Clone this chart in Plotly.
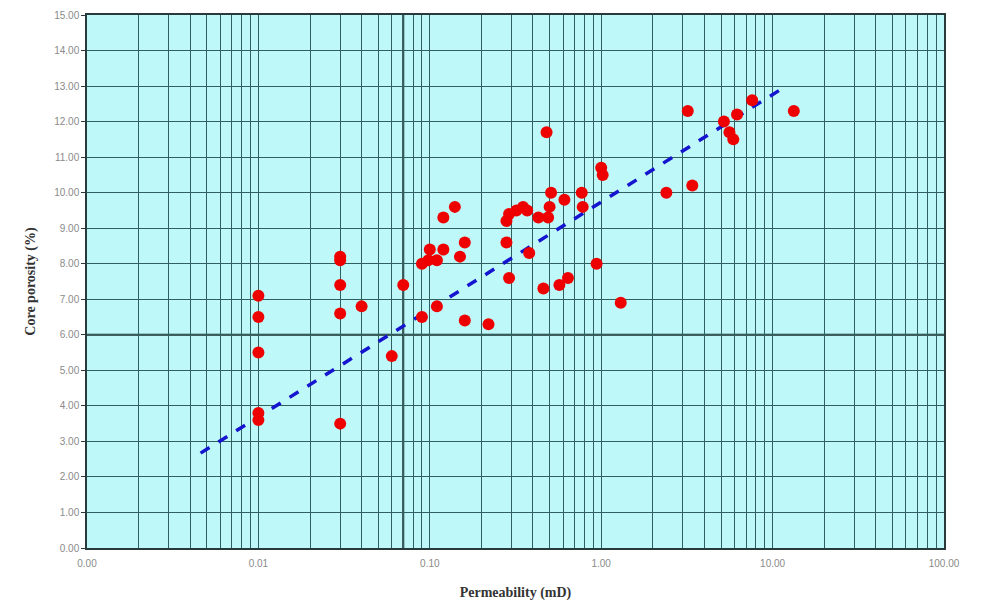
import plotly.graph_objects as go

# ---- data ----
permeability = [0.01, 0.01, 0.01, 0.01, 0.01,
                0.03, 0.03, 0.03, 0.03, 0.03,
                0.04, 0.07, 0.06, 0.09, 0.09, 0.098, 0.10, 0.11, 0.11,
                0.12, 0.12, 0.14, 0.15, 0.16, 0.16, 0.22,
                0.28, 0.28, 0.29, 0.29, 0.32, 0.35, 0.37, 0.38,
                0.43, 0.46, 0.48, 0.49, 0.50, 0.51, 0.57, 0.61, 0.64,
                0.77, 0.78, 0.94, 1.0, 1.02, 1.3,
                2.4, 3.2, 3.4, 5.2, 5.6, 5.9, 6.2, 7.6, 13.3]
porosity = [7.1, 6.5, 5.5, 3.8, 3.6,
            8.2, 8.1, 7.4, 6.6, 3.5,
            6.8, 7.4, 5.4, 6.5, 8.0, 8.1, 8.4, 8.1, 6.8,
            8.4, 9.3, 9.6, 8.2, 8.6, 6.4, 6.3,
            9.2, 8.6, 7.6, 9.4, 9.5, 9.6, 9.5, 8.3,
            9.3, 7.3, 11.7, 9.3, 9.6, 10.0, 7.4, 9.8, 7.6,
            10.0, 9.6, 8.0, 10.7, 10.5, 6.9,
            10.0, 12.3, 10.2, 12.0, 11.7, 11.5, 12.2, 12.6, 12.3]

trend_x = [0.0046, 12.0]
trend_y = [2.67, 13.0]

cutoff_perm = 0.07
cutoff_por = 6.0

x_decades = [0.001, 0.01, 0.1, 1, 10, 100]
x_labels = ["0.00", "0.01", "0.10", "1.00", "10.00", "100.00"]
y_ticks = list(range(0, 16))
y_labels = ["%.2f" % v for v in y_ticks]

# gridline positions (1..9 per decade)
x_grid = []
x_grid_text = []
for d, lab in zip(x_decades, x_labels):
    if d == x_decades[-1]:
        x_grid.append(d)
        x_grid_text.append(lab)
        break
    for m in range(1, 10):
        x_grid.append(d * m)
        x_grid_text.append(lab if m == 1 else "")

grid_col = "#2f5f5f"

fig = go.Figure()
fig.add_trace(go.Scatter(
    x=trend_x, y=trend_y, mode="lines",
    line=dict(color="#1515d0", width=3.5, dash="dash"),
    showlegend=False, hoverinfo="skip"))
fig.add_trace(go.Scatter(
    x=permeability, y=porosity, mode="markers",
    marker=dict(color="#ee0000", size=12, line=dict(width=0)),
    showlegend=False))

fig.add_shape(type="line", xref="x", yref="paper", x0=cutoff_perm, x1=cutoff_perm,
              y0=0, y1=1, line=dict(color="#1a2a2a", width=2), layer="below")
fig.add_shape(type="line", xref="paper", yref="y", x0=0, x1=1,
              y0=cutoff_por, y1=cutoff_por, line=dict(color="#1a2a2a", width=2), layer="below")

fig.update_layout(
    width=982, height=605,
    margin=dict(l=79, r=46, t=7, b=65, autoexpand=False),
    paper_bgcolor="white",
    plot_bgcolor="#bff8f8",
    font=dict(family="Arial, Liberation Sans, sans-serif", size=10, color="#8a8a8a"),
    xaxis=dict(
        type="log", range=[-3, 2], automargin=False,
        tickmode="array", tickvals=x_grid, ticktext=x_grid_text,
        showgrid=True, gridcolor=grid_col, gridwidth=1,
        showline=True, linecolor="#2a3a3a", linewidth=1.5, mirror=True,
        ticks="", zeroline=False, ticklabelstandoff=5,
        title=dict(text="<b>Permeability (mD)</b>",
                   font=dict(family="Liberation Serif, Times New Roman, serif", size=14, color="#333333"),
                   standoff=19),
    ),
    yaxis=dict(
        range=[0, 15], automargin=False,
        tickmode="array", tickvals=y_ticks, ticktext=y_labels,
        showgrid=True, gridcolor=grid_col, gridwidth=1,
        showline=True, linecolor="#2a3a3a", linewidth=1.5, mirror=True,
        ticks="outside", ticklen=4, tickcolor="#2a3a3a", zeroline=False,
        title=dict(text="<b>Core porosity (%)</b>",
                   font=dict(family="Liberation Serif, Times New Roman, serif", size=14, color="#333333"),
                   standoff=15),
    ),
)

fig.write_html("out.html")
